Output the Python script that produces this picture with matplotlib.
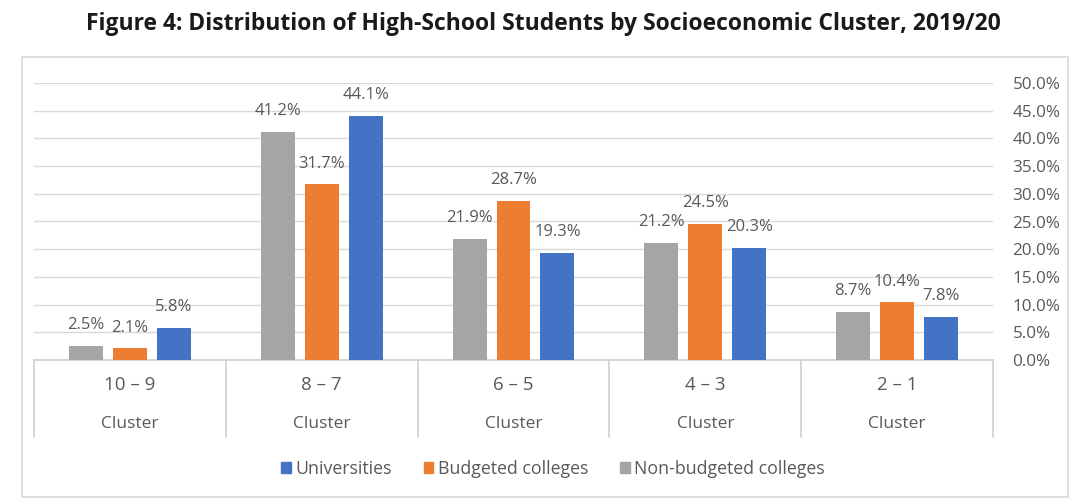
import matplotlib
matplotlib.use("Agg")
import matplotlib.pyplot as plt
from matplotlib.patches import Rectangle, Patch
import numpy as np

categories = ["10 – 9", "8 – 7", "6 – 5", "4 – 3", "2 – 1"]
sub_label = "Cluster"
series_names = ["Non-budgeted colleges", "Budgeted colleges", "Universities"]
non_budgeted = [2.5, 41.2, 21.9, 21.2, 8.7]
budgeted = [2.1, 31.7, 28.7, 24.5, 10.4]
universities = [5.8, 44.1, 19.3, 20.3, 7.8]
yticks = [0, 5, 10, 15, 20, 25, 30, 35, 40, 45, 50]
title = "Figure 4: Distribution of High-School Students by Socioeconomic Cluster, 2019/20"

colors = {"Non-budgeted colleges": "#A5A5A5", "Budgeted colleges": "#ED7D31", "Universities": "#4472C4"}
values = {"Non-budgeted colleges": non_budgeted, "Budgeted colleges": budgeted, "Universities": universities}

plt.rcParams['font.family'] = ['Open Sans', 'DejaVu Sans']
txt = "#595959"

W, H = 1075, 501
fig = plt.figure(figsize=(W / 100, H / 100), dpi=100)
fig.patch.set_facecolor("white")

# outer border
fig.add_artist(Rectangle((22 / W, 1 - 497 / H), (1068 - 22) / W, (497 - 57) / H,
                         transform=fig.transFigure, fill=False, edgecolor="#D9D9D9", lw=1.2))

fig.text(543 / W, 1 - 24 / H, title, ha="center", va="center", fontsize=16.5,
         fontweight="bold", color="#1A1A1A")

left, right = 34 / W, 993 / W
bottom, top = 1 - 360 / H, 1 - 83 / H
ax = fig.add_axes([left, bottom, right - left, top - bottom])

x = np.arange(len(categories))
bw = 0.177
step = 0.229
for i, name in enumerate(series_names):
    xs = x + (i - 1) * step
    ax.bar(xs, values[name], width=bw, color=colors[name], zorder=3)
    for xi, v in zip(xs, values[name]):
        ax.annotate(f"{v:.1f}%", (xi, v), xytext=(0, 15), textcoords="offset points",
                    ha="center", va="center", fontsize=12, color=txt, zorder=4)

ax.set_xlim(-0.5, len(categories) - 0.5)
ax.set_ylim(0, 50)
ax.set_yticks(yticks)
ax.set_yticklabels([f"{t:.1f}%" for t in yticks])
ax.yaxis.tick_right()
ax.tick_params(axis="y", length=0, pad=14, labelsize=12.3, labelcolor=txt)
ax.set_xticks([])
ax.grid(axis="y", color="#D9D9D9", lw=1, zorder=0)
for s in ax.spines.values():
    s.set_visible(False)

# category axis box
axis_col = "#D0D0D0"
ax.plot([-0.5, len(categories) - 0.5], [0, 0], color=axis_col, lw=1.2, clip_on=False, zorder=2)
yb = -(437 - 360) / (360 - 83)
for b in np.arange(-0.5, len(categories), 1.0):
    ax.plot([b, b], [0, yb * 50], color=axis_col, lw=1.2, clip_on=False)
trans = ax.get_xaxis_transform()
for xi, c in zip(x, categories):
    ax.text(xi, -(385 - 360) / (360 - 83), c, transform=trans, ha="center", va="center",
            fontsize=13.5, color=txt)
    ax.text(xi, -(424 - 360) / (360 - 83), sub_label, transform=trans, ha="center", va="center",
            fontsize=12.5, color=txt)

handles = [Patch(color=colors[n], label=n) for n in ["Universities", "Budgeted colleges", "Non-budgeted colleges"]]
fig.legend(handles=handles, loc="center", bbox_to_anchor=(553 / W, 1 - 469 / H), ncol=3,
           frameon=False, fontsize=12.8, labelcolor=txt, handlelength=0.55, handleheight=0.55,
           handletextpad=0.25, columnspacing=1.8)

fig.savefig("out.png", dpi=100)
